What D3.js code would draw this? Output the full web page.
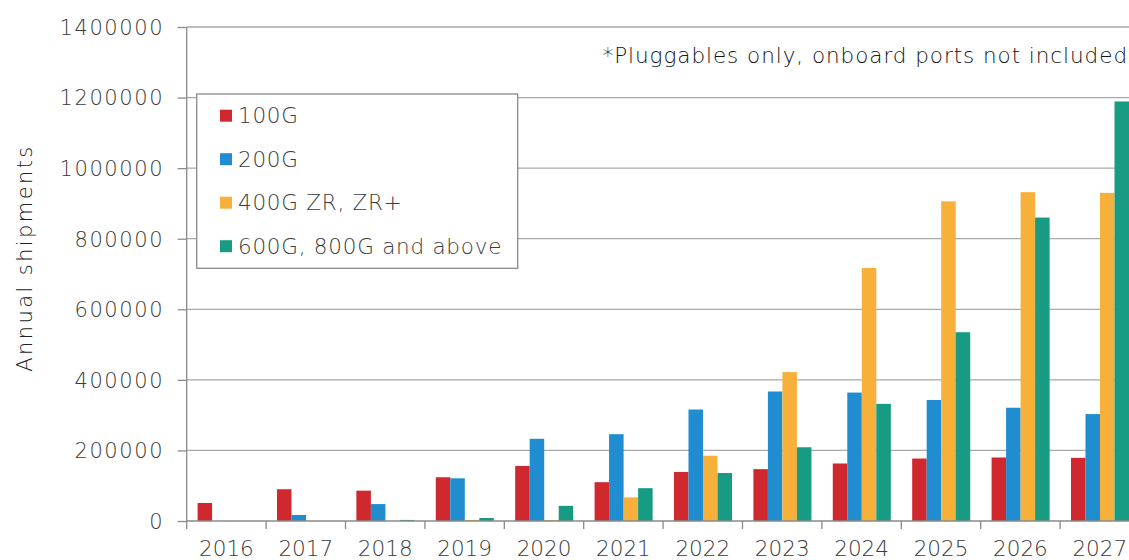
<!DOCTYPE html>
<html><head><meta charset="utf-8">
<script src="https://cdn.jsdelivr.net/npm/d3@7"></script>
<style>
body{margin:0;background:#fff;}
svg text{font-family:"DejaVu Sans",sans-serif;font-weight:200;}
</style></head>
<body><svg id="c" width="1129" height="560"></svg>
<script>
const years = ["2016","2017","2018","2019","2020","2021","2022","2023","2024","2025","2026","2027"];
const seriesNames = ["100G","200G","400G ZR, ZR+","600G, 800G and above"];
const s100G  = [51000, 90000, 86000, 124000, 156000, 110000, 139000, 147000, 163000, 177000, 180000, 179000];
const s200G  = [0, 17000, 48000, 121000, 233000, 246000, 316000, 367000, 364000, 343000, 321000, 303000];
const s400G  = [0, 0, 0, 3000, 3000, 67000, 185000, 422000, 717000, 906000, 932000, 930000];
const s800G  = [0, 0, 3000, 8500, 43000, 93000, 136000, 209000, 332000, 535000, 860000, 1189000];
const yTicks = [0,200000,400000,600000,800000,1000000,1200000,1400000];
const colors = ["#d0282f","#1f8dd0","#f7b13a","#179c83"];
const allSeries = [s100G, s200G, s400G, s800G];

const svg = d3.select("#c");
const x0 = d3.scaleBand().domain(years).range([186.7, 186.7 + 12*79.4]).padding(0);
const step = x0.bandwidth();
const x1 = d3.scaleBand().domain(seriesNames).range([step*0.137, step*0.868]).padding(0);
const y = d3.scaleLinear().domain([0,1400000]).range([521, 27]);

const fontC = "#3a3a3a";
svg.append("g").selectAll("line").data(yTicks.slice(1)).join("line")
  .attr("x1", 186.7).attr("x2", 1129).attr("y1", d=>y(d)).attr("y2", d=>y(d))
  .attr("stroke", "#a9a9a9").attr("stroke-width", 1.3);

const yAxis = d3.axisLeft(y).tickValues(yTicks).tickSize(9).tickPadding(13.5).tickFormat(d3.format("d"));
const gy = svg.append("g").attr("transform","translate(186.7,0)").call(yAxis);
gy.select(".domain").attr("stroke","#8a8a8a").attr("stroke-width",1.3).attr("d","M0,27V521");
gy.selectAll(".tick line").attr("stroke","#8a8a8a").attr("stroke-width",1.3);
gy.selectAll(".tick text").attr("fill",fontC).attr("font-size",21).style("letter-spacing","1.6px").attr("dy","0.35em");

const g = svg.append("g");
years.forEach((yr,i)=>{
  allSeries.forEach((s,j)=>{
    const v = s[i];
    if(v<=0) return;
    g.append("rect")
      .attr("x", x0(yr)+x1(seriesNames[j]))
      .attr("width", x1.bandwidth())
      .attr("y", y(v)).attr("height", y(0)-y(v))
      .attr("fill", colors[j]);
  });
});

const xAxis = d3.axisBottom(x0).tickSize(0).tickPadding(20);
const gx = svg.append("g").attr("transform","translate(0,521)").call(xAxis);
gx.select(".domain").attr("stroke","#8a8a8a").attr("stroke-width",1.5).attr("d","M186.7,0H1129");
gx.selectAll(".tick text").attr("fill",fontC).attr("font-size",21.5).attr("dy","0.71em");
svg.append("g").selectAll("line").data(years).join("line")
  .attr("x1", d=>x0(d)).attr("x2", d=>x0(d)).attr("y1",521).attr("y2",529)
  .attr("stroke","#8a8a8a").attr("stroke-width",1.3);

svg.append("text").attr("transform","translate(32,258) rotate(-90)")
  .attr("text-anchor","middle").attr("fill","#222").attr("font-size",21).style("letter-spacing","2.4px")
  .text("Annual shipments");

svg.append("text").attr("x",1128).attr("y",63).attr("text-anchor","end")
  .attr("fill","#111").attr("font-size",21.5).style("letter-spacing","0.95px")
  .text("*Pluggables only, onboard ports not included");

const lg = svg.append("g");
lg.append("rect").attr("x",196.7).attr("y",94).attr("width",321).attr("height",174.3)
  .attr("fill","#fff").attr("stroke","#8a8a8a").attr("stroke-width",1.3);
seriesNames.forEach((n,j)=>{
  const cy = 115.7 + j*43.5;
  lg.append("rect").attr("x",220).attr("y",cy-6).attr("width",12).attr("height",12).attr("fill",colors[j]);
  lg.append("text").attr("x",238).attr("y",cy).attr("dy","0.36em").attr("fill",fontC)
    .attr("font-size",21.5).style("letter-spacing","0.75px").text(n);
});
</script></body></html>
